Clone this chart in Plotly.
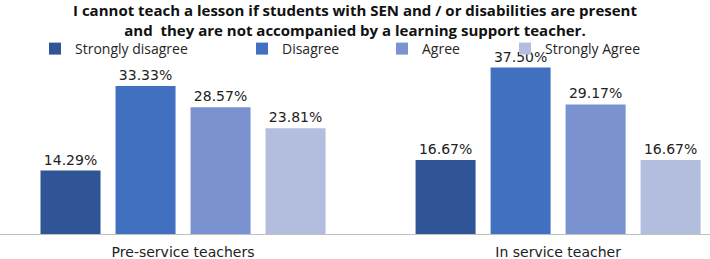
import plotly.graph_objects as go

groups = ["Pre-service teachers", "In service teacher"]
series_names = ["Strongly disagree", "Disagree", "Agree", "Strongly Agree"]
strongly_disagree = [14.29, 16.67]
disagree = [33.33, 37.50]
agree = [28.57, 29.17]
strongly_agree = [23.81, 16.67]
values = [strongly_disagree, disagree, agree, strongly_agree]
colors = ["#2F5597", "#4170C0", "#7A92CF", "#B3BEDF"]
title_text = ("I cannot teach a lesson if students with SEN and / or disabilities are present<br>"
              "and  they are not accompanied by a learning support teacher.")

W, H = 710, 259
plot_h = 234

fig = go.Figure()
legend_ids = ["legend", "legend2", "legend3", "legend4"]
for name, vals, col, lg in zip(series_names, values, colors, legend_ids):
    fig.add_trace(go.Bar(
        x=groups, y=vals, name=name, legend=lg,
        marker=dict(color=col, line=dict(width=0)),
        texttemplate="%{y:.2f}%", textposition="outside",
        textfont=dict(family="DejaVu Sans", size=14, color="#222222"),
        cliponaxis=False,
    ))

legend_px = [35, 242, 382, 505]
legend_common = dict(
    orientation="h", yanchor="middle", y=1 - 49 / plot_h, xanchor="left",
    bgcolor="rgba(0,0,0,0)", borderwidth=0,
    font=dict(family="Open Sans", size=14, color="#262626"),
)
layout_legends = {}
for lg, px in zip(legend_ids, legend_px):
    layout_legends[lg] = dict(legend_common, x=px / W)

fig.update_layout(
    width=W, height=H,
    margin=dict(l=0, r=0, t=0, b=H - plot_h, autoexpand=False),
    paper_bgcolor="white", plot_bgcolor="white",
    barmode="group", bargap=0.2, bargroupgap=0.2,
    title=dict(text=title_text, x=0.5, xanchor="center", xref="paper",
               y=1 - 16 / H, yanchor="middle", yref="container",
               font=dict(family="Open Sans", size=15, color="#111111", weight="bold")),
    xaxis=dict(range=[-0.488, 1.405], showline=True, linecolor="#BFBFBF", linewidth=1,
               ticks="", showgrid=False, fixedrange=True, ticklabelstandoff=5,
               automargin=False,
               tickfont=dict(family="DejaVu Sans", size=14, color="#222222")),
    yaxis=dict(range=[0, plot_h / 4.44], visible=False, showgrid=False, fixedrange=True),
    showlegend=True,
    **layout_legends,
)

fig.write_html("out.html")
